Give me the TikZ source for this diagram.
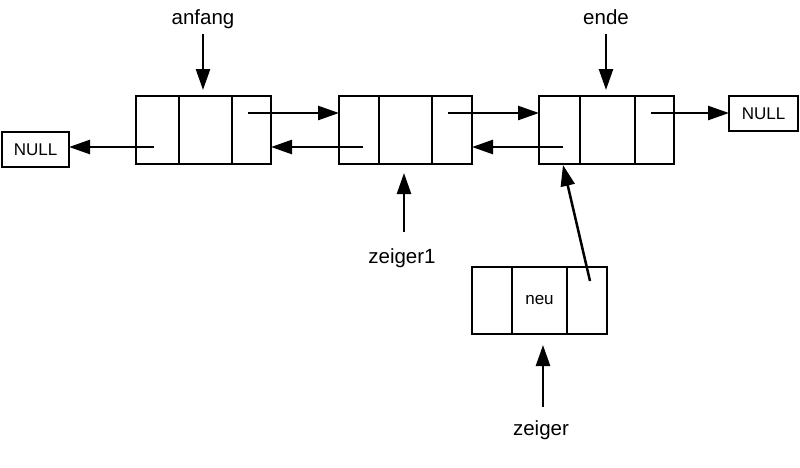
\documentclass[tikz,border=0pt]{standalone}
\usepackage{fontspec}
\setmainfont{Liberation Sans}
\usetikzlibrary{arrows.meta}
\begin{document}
\begin{tikzpicture}[x=1pt,y=-1pt,
  cell/.style={draw,line width=2.5pt,inner sep=0pt,outer sep=0pt,minimum height=68pt},
  nullbox/.style={draw,line width=2.5pt,inner sep=0pt,outer sep=0pt,minimum width=67pt,minimum height=35pt,font=\fontsize{17}{17}\selectfont},
  lbl/.style={inner sep=0pt,anchor=base,font=\fontsize{20.5}{20.5}\selectfont},
  arr/.style={line width=2.5pt,-{Triangle[length=21pt,width=14pt]}}]
\useasboundingbox (0,0) rectangle (800,467);
% box 1
\node[cell,minimum width=43pt] (b1l) at (157.5,130) {};
\node[cell,minimum width=53pt] (b1m) at (205.5,130) {};
\node[cell,minimum width=39pt] (b1r) at (251.5,130) {};
% box 2
\node[cell,minimum width=40pt] (b2l) at (359,130) {};
\node[cell,minimum width=53pt] (b2m) at (405.5,130) {};
\node[cell,minimum width=40pt] (b2r) at (452,130) {};
% box 3
\node[cell,minimum width=41pt] (b3l) at (559.5,130) {};
\node[cell,minimum width=55pt] (b3m) at (607.5,130) {};
\node[cell,minimum width=39pt] (b3r) at (654.5,130) {};
% neu box
\node[cell,minimum width=40pt,minimum height=67pt] (nl) at (492,300.5) {};
\node[cell,minimum width=55pt,minimum height=67pt,font=\fontsize{17}{17}\selectfont] (nm) at (539.5,300.5) {neu};
\node[cell,minimum width=40pt,minimum height=67pt] (nr) at (587,300.5) {};
% NULL boxes
\node[nullbox] (nullL) at (35.5,149.5) {NULL};
\node[nullbox,minimum width=69pt] (nullR) at (763.5,113.5) {NULL};
% labels
\node[lbl] (anfang) at (203,24) {anfang};
\node[lbl] (ende) at (606,24) {ende};
\node[lbl] (zeigerA) at (402,263) {zeiger1};
\node[lbl] (zeigerB) at (541,435) {zeiger};
% start points
\coordinate (s1) at (248,113);
\coordinate (s2) at (448,113);
\coordinate (s3) at (651,113);
\coordinate (r1) at (154,147);
\coordinate (r2) at (363,147);
\coordinate (r3) at (563,147);
\coordinate (pa) at (203,34);
\coordinate (pe) at (606,34);
\coordinate (pz1) at (404,232);
\coordinate (pz) at (543,407);
\coordinate (pn) at (590,281);
\coordinate (qn) at (563,165);
% forward arrows
\draw[arr] (s1) -- (s1 -| b2l.west);
\draw[arr] (s2) -- (s2 -| b3l.west);
\draw[arr] (s3) -- (s3 -| nullR.west);
% backward arrows
\draw[arr] (r1) -- (r1 -| nullL.east);
\draw[arr] (r2) -- (r2 -| b1r.east);
\draw[arr] (r3) -- (r3 -| b2r.east);
% pointer arrows
\draw[arr] (pa) -- ([yshift=6pt]pa |- b1m.north);
\draw[arr] (pe) -- ([yshift=6pt]pe |- b3m.north);
\draw[arr] (pz1) -- ([yshift=-9pt]pz1 |- b2m.south);
\draw[arr] (pz) -- ([yshift=-11pt]pz |- nm.south);
\draw[arr] (pn) -- (qn);
\end{tikzpicture}
\end{document}
